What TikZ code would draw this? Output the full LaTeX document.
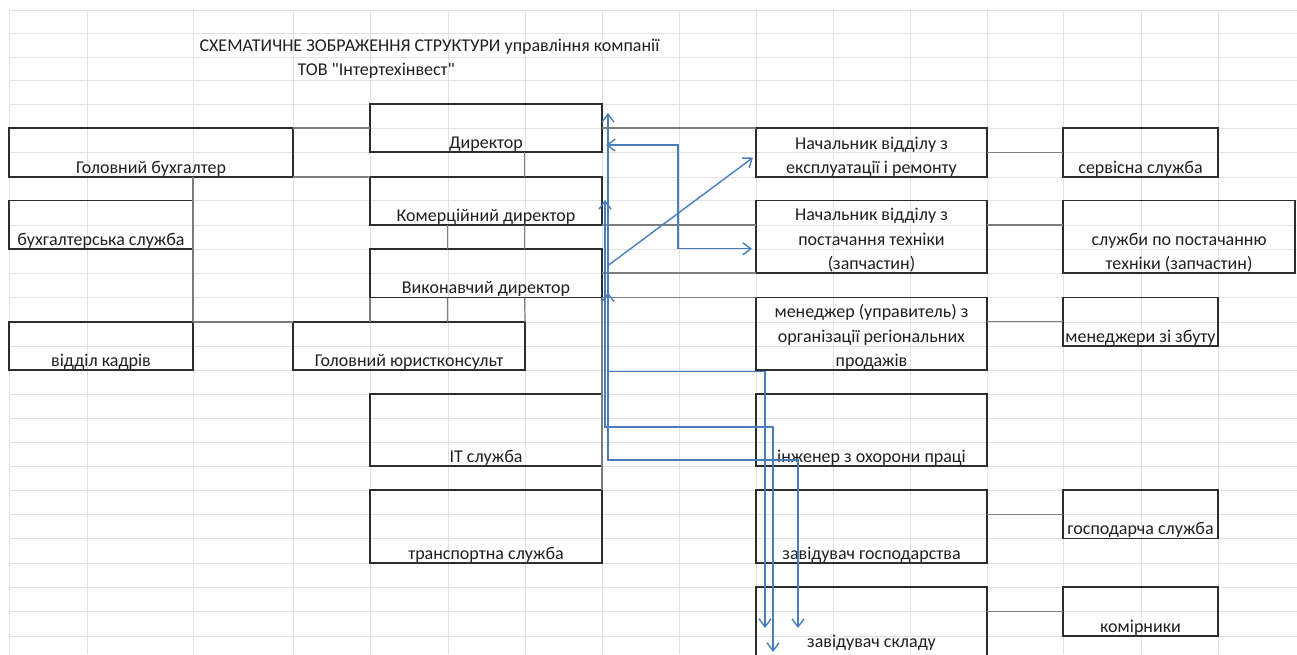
\documentclass[tikz,border=0pt]{standalone}
\usepackage{fontspec}
\setmainfont{Carlito}[Ligatures=TeXOff]
\usetikzlibrary{arrows.meta,calc}

\definecolor{boxline}{RGB}{45,45,45}
\definecolor{linkgray}{RGB}{125,125,125}
\definecolor{arrowblue}{RGB}{74,126,187}
\definecolor{gridgray}{RGB}{226,226,226}

\begin{document}
\begin{tikzpicture}[
        x=1pt, y=-1pt,
        every node/.style={font=\fontsize{18}{24.3}\selectfont, text=black!88},
        box/.style={draw=boxline, line width=1.7pt, inner sep=0pt, outer sep=0pt},
        cell/.style 2 args={minimum width=#1, minimum height=#2},
        lbl/.style={anchor=south, inner sep=0pt, text depth=3.5pt, align=center},
        link/.style={draw=linkgray, line width=1.2pt},
        flow/.style={draw=arrowblue, line width=1.4pt, >={Straight Barb[length=8pt,width=12pt]}},
        gridline/.style={draw=gridgray, line width=0.9pt}
    ]

    \useasboundingbox (0,0) rectangle (1297,654);
    \clip (0,0) rectangle (1297,654);

    % Sheet grid
    \foreach \gx in {9,87,193,293,370,448,525,602,679,756,833,910,987,1063,1141,1218}
        \draw[gridline] (\gx,10) -- (\gx,654);
    \foreach \gy in {10,33.5,57,80.5,104,128,152,177,200.5,225,249,273,297.5,322,346,370,394,418,442,466,490,514,538.5,563,587,611,636}
        \draw[gridline] (9,\gy) -- (1297,\gy);

    % Title
    \node[anchor=base west] (title) at (196,51) {СХЕМАТИЧНЕ ЗОБРАЖЕННЯ СТРУКТУРИ управління компанії};
    \node[anchor=base west] (firm) at (294,75) {ТОВ "Інтертехінвест"};

    % Nodes
    \node[box, cell={284}{49}, label={[lbl]south:Головний бухгалтер}] (buh) at (151,152.5) {};
    \node[box, cell={184}{48.5}, label={[lbl]south:бухгалтерська служба}] (buhsl) at (101,224.75) {};
    \node[box, cell={184}{48}, label={[lbl]south:відділ кадрів}] (kadry) at (101,346) {};

    \node[box, cell={232}{48}, label={[lbl]south:Директор}] (dir) at (486,128) {};
    \node[box, cell={232}{48}, label={[lbl]south:Комерційний директор}] (komdir) at (486,201) {};
    \node[box, cell={232}{48.5}, label={[lbl]south:Виконавчий директор}] (vykdir) at (486,273.25) {};
    \node[box, cell={232}{48}, label={[lbl]south:Головний юристконсульт}] (jur) at (409,346) {};
    \node[box, cell={232}{72}, label={[lbl]south:IT служба}] (it) at (486,430) {};
    \node[box, cell={232}{73}, label={[lbl]south:транспортна служба}] (trans) at (486,526.5) {};

    \node[box, cell={231}{49}, label={[lbl]south:Начальник відділу з\\експлуатації і ремонту}] (ekspl) at (871.5,152.5) {};
    \node[box, cell={231}{72.5}, label={[lbl]south:Начальник відділу з\\постачання техніки\\(запчастин)}] (postach) at (871.5,236.75) {};
    \node[box, cell={231}{72.5}, label={[lbl]south:менеджер (управитель) з\\організації регіональних\\продажів}] (menedzh) at (871.5,333.75) {};
    \node[box, cell={231}{72}, label={[lbl]south:інженер з охорони праці}] (inzh) at (871.5,430) {};
    \node[box, cell={231}{73}, label={[lbl]south:завідувач господарства}] (gosp) at (871.5,526.5) {};
    \node[box, cell={231}{73}, label={[lbl,yshift=9pt]south:завідувач складу}] (sklad) at (871.5,623.5) {};

    \node[box, cell={155}{49}, label={[lbl]south:сервісна служба}] (serv) at (1140.5,152.5) {};
    \node[box, cell={232}{72.5}, label={[lbl]south:служби по постачанню\\техніки (запчастин)}] (slpost) at (1179,236.75) {};
    \node[box, cell={155}{48.5}, label={[lbl]south:менеджери зі збуту}] (zbut) at (1140.5,321.75) {};
    \node[box, cell={155}{48.5}, label={[lbl]south:господарча служба}] (gospsl) at (1140.5,514.25) {};
    \node[box, cell={155}{49}, label={[lbl]south:комірники}] (komir) at (1140.5,611.5) {};

    % Edges
    \draw[link] (buh.north east) -- (dir.west);
    \draw[link] (buh.south east) -- (komdir.north west);
    \draw[link] (buh.south -| kadry.east) -- (kadry.north east);
    \draw[link] (kadry.north east) -- (jur.north west);

    \draw[link] ($(dir.south west)!2/3!(dir.south east)$) -- ($(komdir.north west)!2/3!(komdir.north east)$);
    \draw[link] ($(komdir.south west)!1/3!(komdir.south east)$) -- ($(vykdir.north west)!1/3!(vykdir.north east)$);
    \draw[link] ($(komdir.south west)!2/3!(komdir.south east)$) -- ($(vykdir.north west)!2/3!(vykdir.north east)$);
    \draw[link] (vykdir.south west) -- (jur.north -| vykdir.south west);
    \draw[link] ($(vykdir.south west)!1/3!(vykdir.south east)$) -- ($(jur.north -| vykdir.south west)!1/2!(jur.north east)$);
    \draw[link] ($(vykdir.south west)!2/3!(vykdir.south east)$) -- (jur.north east);
    \draw[link] (vykdir.south east) -- (trans.north east);

    \draw[link] (dir.east) -- (ekspl.north west);
    \draw[link] (komdir.south east) -- (komdir.south -| postach.west);
    \draw[link] (vykdir.east |- postach.south) -- (postach.south west);
    \draw[link] (vykdir.south east) -- (menedzh.north west);

    \draw[link] (ekspl.east) -- (serv.west);
    \draw[link] (komdir.south -| postach.east) -- (komdir.south -| slpost.west);
    \draw[link] (zbut.west -| menedzh.east) -- (zbut.west);
    \draw[link] (gospsl.west -| gosp.east) -- (gospsl.west);
    \draw[link] (komir.west -| sklad.east) -- (komir.west);

    % Blue arrows
    \draw[flow,<->] ([shift={(4,17)}]dir.east) -- ++(72,0) |- ([shift={(-4,12)}]postach.west);
    \draw[flow,->] ([shift={(5,-7)}]vykdir.east) -- ([shift={(-3,5)}]ekspl.west);
    \draw[flow,<->] ([shift={(6,9)}]dir.north east) |- ++(190,347) -- ([shift={(42,41)}]sklad.north west);
    \draw[flow,<->] ([shift={(3,23)}]komdir.north east) |- ++(168,227) -- ([shift={(17,65)}]sklad.north west);
    \draw[flow,<->] ([shift={(6,-5)}]vykdir.south east) |- ++(157,79) -- ([shift={(9,41)}]sklad.north west);

\end{tikzpicture}
\end{document}
